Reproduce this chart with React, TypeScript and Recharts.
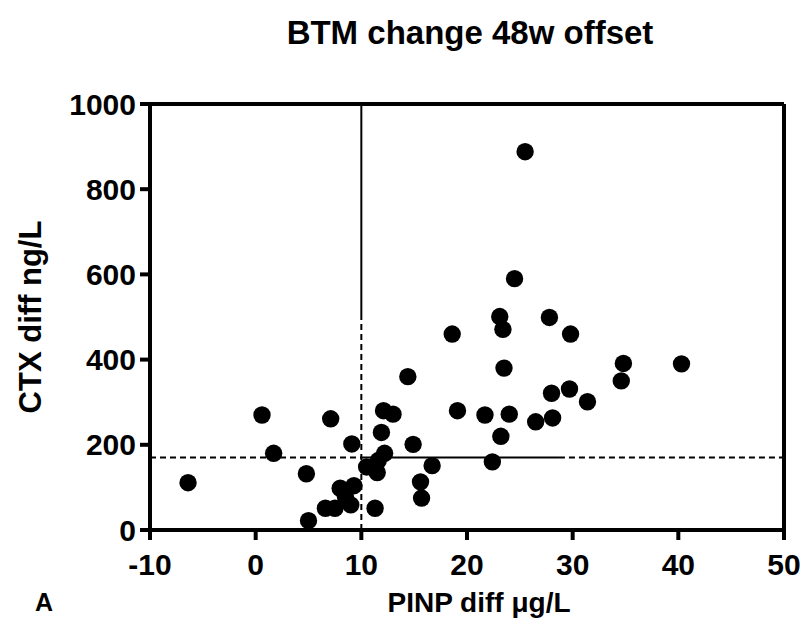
import {
  ReferenceLine,
  Scatter,
  ScatterChart,
  XAxis,
  YAxis,
} from "recharts";

const pinpDiff = [
  -6.4, 0.6, 1.7, 4.8, 5.0, 7.1, 6.6, 7.5, 8.5, 8.0, 9.3, 9.0, 9.1, 12.1, 13.0,
  11.9, 12.2, 11.6, 10.5, 11.5, 11.3, 14.4, 14.9, 16.7, 15.6, 15.7, 19.1, 21.7,
  24.0, 23.2, 22.4, 26.5, 28.1, 28.0, 29.7, 31.4, 34.6, 34.8, 40.3, 18.6, 23.1,
  23.4, 23.5, 27.8, 29.8, 24.5, 25.5,
];

const ctxDiff = [
  111, 270, 180, 132, 22, 261, 51, 51, 78, 98, 104, 59, 202, 280, 272, 229, 180,
  163, 148, 135, 51, 360, 201, 151, 113, 75, 280, 270, 272, 220, 160, 254, 263,
  321, 331, 301, 350, 391, 390, 460, 501, 471, 380, 499, 460, 590, 888,
];

const xTicks = [-10, 0, 10, 20, 30, 40, 50];
const yTicks = [0, 200, 400, 600, 800, 1000];

const thresholdCtx = 170;
const thresholdPinp = 10;
const solidEndPinp = 28.7;
const solidStartCtx = 500;

const points = pinpDiff.map((x, i) => ({ x, y: ctxDiff[i] }));

const FONT = "'Liberation Sans', Arial, sans-serif";

const Dot = (props: any) => {
  const { cx, cy } = props;
  if (cx == null || cy == null) return null;
  return <circle cx={cx} cy={cy} r={8.7} fill="#000" />;
};

const YLabel = (props: any) => {
  const vb = props.viewBox || {};
  const cy = vb.y + vb.height / 2;
  return (
    <text
      x={41}
      y={cy}
      transform={`rotate(-90, 41, ${cy})`}
      textAnchor="middle"
      fontFamily={FONT}
      fontWeight="bold"
      fontSize={31}
      fill="#000"
    >
      CTX diff ng/L
    </text>
  );
};

const XLabel = (props: any) => {
  const vb = props.viewBox || {};
  const cx = vb.x + vb.width / 2 + 12;
  return (
    <text
      x={cx}
      y={612}
      textAnchor="middle"
      fontFamily={FONT}
      fontWeight="bold"
      fontSize={28}
      fill="#000"
    >
      PINP diff μg/L
    </text>
  );
};

export default function App() {
  const tickStyle = {
    fontFamily: FONT,
    fontWeight: "bold",
    fontSize: 30,
    fill: "#000",
  };
  return (
    <div
      style={{
        position: "absolute",
        left: 0,
        top: 0,
        width: 807,
        height: 632,
        background: "#fff",
      }}
    >
      <div
        style={{
          position: "absolute",
          left: 150,
          width: 640,
          top: 14,
          textAlign: "center",
          fontFamily: FONT,
          fontWeight: "bold",
          fontSize: 33,
          color: "#000",
        }}
      >
        BTM change 48w offset
      </div>
      <div
        style={{
          position: "absolute",
          left: 35,
          top: 588,
          fontFamily: FONT,
          fontWeight: "bold",
          fontSize: 25,
          color: "#000",
        }}
      >
        A
      </div>
      <ScatterChart
        width={807}
        height={632}
        margin={{ top: 104, right: 23, bottom: 42, left: 0 }}
      >
        <XAxis
          type="number"
          dataKey="x"
          domain={[-10, 50]}
          ticks={xTicks}
          allowDataOverflow
          stroke="#000"
          strokeWidth={4}
          tickSize={10}
          tickMargin={14}
          tick={tickStyle}
          height={60}
          label={<XLabel />}
        />
        <YAxis
          type="number"
          dataKey="y"
          domain={[0, 1000]}
          ticks={yTicks}
          allowDataOverflow
          stroke="#000"
          strokeWidth={4}
          tickSize={10}
          tickMargin={4}
          tick={tickStyle}
          width={150}
          label={<YLabel />}
        />
        <ReferenceLine y={1000} stroke="#000" strokeWidth={4} />
        <ReferenceLine x={50} stroke="#000" strokeWidth={4} />
        <ReferenceLine
          segment={[
            { x: -10, y: thresholdCtx },
            { x: thresholdPinp, y: thresholdCtx },
          ]}
          stroke="#000"
          strokeWidth={2}
          strokeDasharray="6 4"
        />
        <ReferenceLine
          segment={[
            { x: thresholdPinp, y: thresholdCtx },
            { x: solidEndPinp, y: thresholdCtx },
          ]}
          stroke="#000"
          strokeWidth={2}
        />
        <ReferenceLine
          segment={[
            { x: solidEndPinp, y: thresholdCtx },
            { x: 50, y: thresholdCtx },
          ]}
          stroke="#000"
          strokeWidth={2}
          strokeDasharray="6 4"
        />
        <ReferenceLine
          segment={[
            { x: thresholdPinp, y: 0 },
            { x: thresholdPinp, y: solidStartCtx },
          ]}
          stroke="#000"
          strokeWidth={2}
          strokeDasharray="6 4"
        />
        <ReferenceLine
          segment={[
            { x: thresholdPinp, y: solidStartCtx },
            { x: thresholdPinp, y: 1000 },
          ]}
          stroke="#000"
          strokeWidth={2}
        />
        <Scatter
          data={points}
          fill="#000"
          shape={<Dot />}
          isAnimationActive={false}
        />
      </ScatterChart>
    </div>
  );
}
